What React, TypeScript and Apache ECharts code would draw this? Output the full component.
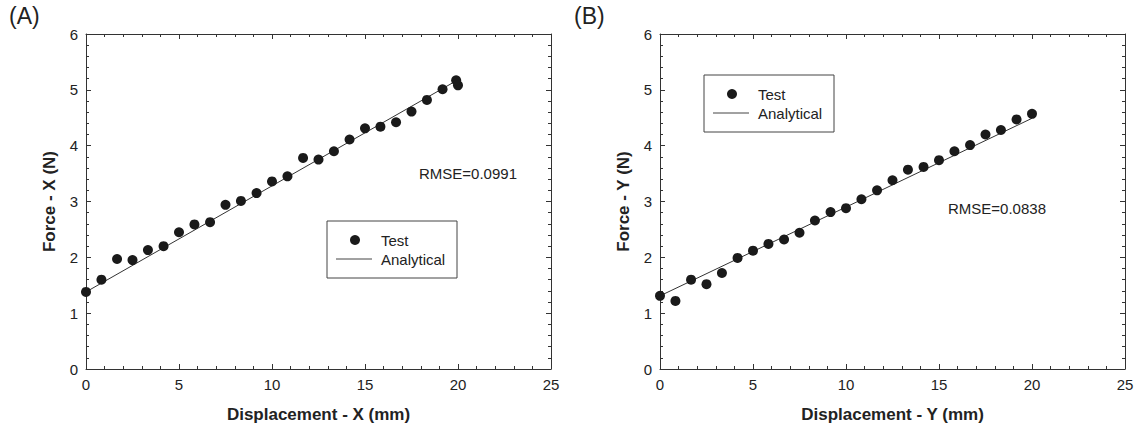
import React, { useEffect, useRef } from "react";
import * as echarts from "echarts";

// ---- data ----
const xPositionsA: number[] = [0, 0.83, 1.67, 2.5, 3.33, 4.17, 5, 5.83, 6.67, 7.5, 8.33, 9.17, 10, 10.83, 11.67, 12.5, 13.33, 14.17, 15, 15.83, 16.67, 17.5, 18.33, 19.17, 20, 19.9];
const forceXTest: number[] = [1.38, 1.6, 1.97, 1.95, 2.13, 2.2, 2.45, 2.59, 2.63, 2.94, 3.01, 3.15, 3.36, 3.45, 3.78, 3.75, 3.9, 4.11, 4.31, 4.34, 4.42, 4.61, 4.82, 5.01, 5.08, 5.17];
const forceXAnalytical: [number, number][] = [[0, 1.38], [20, 5.18]];

const xPositionsB: number[] = [0, 0.83, 1.67, 2.5, 3.33, 4.17, 5, 5.83, 6.67, 7.5, 8.33, 9.17, 10, 10.83, 11.67, 12.5, 13.33, 14.17, 15, 15.83, 16.67, 17.5, 18.33, 19.17, 20];
const forceYTest: number[] = [1.31, 1.22, 1.6, 1.52, 1.72, 1.99, 2.12, 2.24, 2.32, 2.44, 2.66, 2.81, 2.88, 3.04, 3.2, 3.38, 3.57, 3.62, 3.74, 3.9, 4.01, 4.2, 4.28, 4.47, 4.57];
const forceYAnalytical: [number, number][] = [[0, 1.31], [20, 4.49]];

const xTitles = ["Displacement - X (mm)", "Displacement - Y (mm)"];
const yTitles = ["Force - X (N)", "Force - Y (N)"];
const panelLabels = ["(A)", "(B)"];
const rmseLabels = ["RMSE=0.0991", "RMSE=0.0838"];
const legendNames = ["Test", "Analytical"];

const FONT = "'Liberation Sans', Arial, Helvetica, sans-serif";
const AX = "#333";
const INK = "#1a1a1a";

function axisBase(show: boolean) {
  return {
    type: "value" as const,
    axisLine: { show: true, onZero: false, lineStyle: { color: AX, width: 1 } },
    axisTick: { show: true, inside: true, length: 5, lineStyle: { color: AX } },
    minorTick: { show: true, splitNumber: 5, length: 3, lineStyle: { color: AX } },
    splitLine: { show: false },
    axisLabel: { show, fontSize: 15, color: "#222", fontFamily: FONT, margin: 8 },
  };
}

function makeX(grid: number, pos: "bottom" | "top", title?: string) {
  return {
    ...axisBase(pos === "bottom"),
    gridIndex: grid,
    position: pos,
    min: 0,
    max: 25,
    interval: 5,
    name: title ?? "",
    nameLocation: "middle" as const,
    nameGap: 37,
    nameTextStyle: { fontWeight: "bold", fontSize: 17, color: "#222", fontFamily: FONT },
  };
}

function makeY(grid: number, pos: "left" | "right", title?: string) {
  return {
    ...axisBase(pos === "left"),
    gridIndex: grid,
    position: pos,
    min: 0,
    max: 6,
    interval: 1,
    name: title ?? "",
    nameLocation: "middle" as const,
    nameGap: 28,
    nameRotate: 90,
    nameTextStyle: { fontWeight: "bold", fontSize: 17, color: "#222", fontFamily: FONT },
  };
}

function legendBox(x: number, y: number) {
  return {
    type: "group",
    x,
    y,
    children: [
      { type: "rect", shape: { x: 0, y: 0, width: 130, height: 57 }, style: { fill: "#fff", stroke: "#444", lineWidth: 1 } },
      { type: "circle", shape: { cx: 28, cy: 19, r: 5 }, style: { fill: INK } },
      { type: "line", shape: { x1: 9, y1: 38, x2: 45, y2: 38 }, style: { stroke: "#444", lineWidth: 1 } },
      { type: "text", x: 54, y: 19, style: { text: legendNames[0], fontSize: 15, fontFamily: FONT, fill: "#222", verticalAlign: "middle" } },
      { type: "text", x: 54, y: 38, style: { text: legendNames[1], fontSize: 15, fontFamily: FONT, fill: "#222", verticalAlign: "middle" } },
    ],
  };
}

export default function App() {
  const ref = useRef<HTMLDivElement>(null);
  useEffect(() => {
    if (!ref.current) return;
    const chart = echarts.init(ref.current, null, { renderer: "svg" });
    const scatterStyle = { color: INK, opacity: 1 };
    chart.setOption({
      animation: false,
      backgroundColor: "#fff",
      textStyle: { fontFamily: FONT },
      grid: [
        { left: 86, top: 34, width: 465, height: 335 },
        { left: 660, top: 34, width: 465, height: 335 },
      ],
      xAxis: [makeX(0, "bottom", xTitles[0]), makeX(0, "top"), makeX(1, "bottom", xTitles[1]), makeX(1, "top")],
      yAxis: [makeY(0, "left", yTitles[0]), makeY(0, "right"), makeY(1, "left", yTitles[1]), makeY(1, "right")],
      series: [
        {
          type: "line",
          xAxisIndex: 0,
          yAxisIndex: 0,
          data: forceXAnalytical,
          symbol: "none",
          lineStyle: { color: "#333", width: 1 },
          z: 1,
        },
        {
          type: "scatter",
          xAxisIndex: 0,
          yAxisIndex: 0,
          data: xPositionsA.map((x, i) => [x, forceXTest[i]]),
          symbolSize: 10,
          itemStyle: scatterStyle,
          z: 2,
        },
        {
          type: "line",
          xAxisIndex: 2,
          yAxisIndex: 2,
          data: forceYAnalytical,
          symbol: "none",
          lineStyle: { color: "#333", width: 1 },
          z: 1,
        },
        {
          type: "scatter",
          xAxisIndex: 2,
          yAxisIndex: 2,
          data: xPositionsB.map((x, i) => [x, forceYTest[i]]),
          symbolSize: 10,
          itemStyle: scatterStyle,
          z: 2,
        },
      ],
      graphic: [
        { type: "text", x: 9, y: 16, style: { text: panelLabels[0], fontSize: 23, fontFamily: FONT, fill: "#222", verticalAlign: "middle" } },
        { type: "text", x: 574, y: 16, style: { text: panelLabels[1], fontSize: 23, fontFamily: FONT, fill: "#222", verticalAlign: "middle" } },
        { type: "text", x: 419, y: 173, style: { text: rmseLabels[0], fontSize: 15, fontFamily: FONT, fill: "#222", verticalAlign: "middle" } },
        { type: "text", x: 948, y: 208, style: { text: rmseLabels[1], fontSize: 15, fontFamily: FONT, fill: "#222", verticalAlign: "middle" } },
        legendBox(327, 221),
        legendBox(704, 75),
      ],
    });
    return () => chart.dispose();
  }, []);
  return <div ref={ref} style={{ position: "fixed", left: 0, top: 0, width: 1142, height: 431 }} />;
}
